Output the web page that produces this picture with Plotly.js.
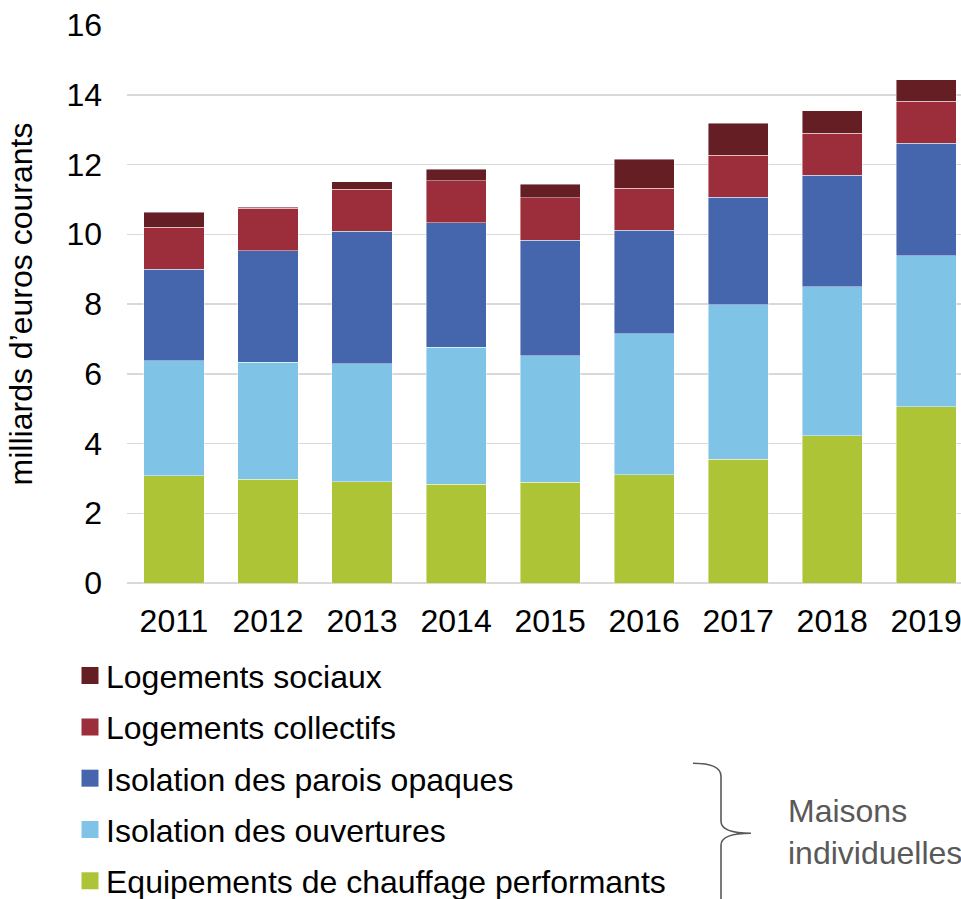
<!DOCTYPE html>
<html>
<head>
<meta charset="utf-8">
<script src="https://cdn.plot.ly/plotly-3.0.1.min.js"></script>
<style>
html,body{margin:0;padding:0;background:#fff;overflow:hidden;}
#chart{width:961px;height:899px;}
</style>
</head>
<body>
<div id="chart"></div>
<script>
// ---- Data (milliards d'euros courants) ----
const years = ['2011','2012','2013','2014','2015','2016','2017','2018','2019'];
const chauffage = [3.08, 2.97, 2.91, 2.83, 2.89, 3.10, 3.55, 4.22, 5.06];
const ouvertures = [3.30, 3.36, 3.37, 3.93, 3.62, 4.04, 4.43, 4.27, 4.32];
const parois = [2.61, 3.20, 3.80, 3.57, 3.32, 2.98, 3.08, 3.20, 3.23];
const collectifs = [1.21, 1.21, 1.21, 1.21, 1.21, 1.20, 1.20, 1.21, 1.21];
const sociaux = [0.43, 0.04, 0.21, 0.32, 0.39, 0.83, 0.92, 0.64, 0.61];

const seriesNames = ['Equipements de chauffage performants','Isolation des ouvertures','Isolation des parois opaques','Logements collectifs','Logements sociaux'];
const seriesValues = [chauffage, ouvertures, parois, collectifs, sociaux];
const seriesColors = ['#AEC437','#7FC3E7','#4565AD','#9C2D3A','#661E25'];

const FONT = 'Liberation Sans, Arial, sans-serif';
const FS = 32;

// plot area in pixels (for decoration placement)
const L = 127, R = 961, T = 24.5, B = 582.7;
const px = x => (x - L) / (R - L);
const py = y => (B - y) / (B - T);

const traces = seriesNames.map((n, i) => ({
  type: 'bar',
  name: n,
  x: years,
  y: seriesValues[i],
  legendgroup: 'g' + i,
  legendrank: 100 - i,
  marker: {color: seriesColors[i], line: {color: 'rgba(255,255,255,0.55)', width: 0.8}},
  hoverinfo: 'x+y+name'
}));

const bracePath = [
  'M', px(693), py(763),
  'Q', px(721), py(763), px(721), py(776),
  'L', px(721), py(821),
  'Q', px(721), py(833), px(751), py(833),
  'Q', px(721), py(833), px(721), py(845),
  'L', px(721), py(910)
].map(v => typeof v === 'number' ? v.toFixed(5) : v).join(' ')
 .replace(/(\d) (-?\d)/g, '$1,$2');

const layout = {
  width: 961, height: 899,
  margin: {l: L, r: 961 - R, t: T, b: 899 - B, autoexpand: false},
  paper_bgcolor: '#fff', plot_bgcolor: '#fff',
  barmode: 'stack',
  bargap: 0.36,
  font: {family: FONT, size: FS, color: '#000'},
  xaxis: {
    type: 'category',
    range: [-0.5, 8.37],
    showgrid: false, zeroline: false, showline: false,
    ticks: '', ticklabelstandoff: 16,
    tickfont: {family: FONT, size: FS, color: '#000'},
    fixedrange: true
  },
  yaxis: {
    range: [0, 16], dtick: 2,
    showgrid: true, gridcolor: '#d9d9d9', gridwidth: 1.5,
    zeroline: true, zerolinecolor: '#d9d9d9', zerolinewidth: 1.5,
    showline: false, ticks: '', ticklabelstandoff: 24,
    tickfont: {family: FONT, size: FS, color: '#000'},
    title: {text: 'milliards d’euros courants', font: {family: FONT, size: FS, color: '#000'}, standoff: 24},
    fixedrange: true
  },
  showlegend: true,
  legend: {
    orientation: 'v',
    traceorder: 'grouped',
    tracegroupgap: 6.7,
    x: px(66), xanchor: 'left',
    y: py(648), yanchor: 'top',
    font: {family: FONT, size: FS, color: '#000'},
    bgcolor: 'rgba(0,0,0,0)', borderwidth: 0
  },
  shapes: [{
    type: 'path', xref: 'paper', yref: 'paper',
    path: bracePath,
    line: {color: '#595959', width: 1.6}
  }],
  annotations: [{
    xref: 'paper', yref: 'paper',
    x: px(786), y: py(832), xanchor: 'left', yanchor: 'middle',
    align: 'left', showarrow: false,
    text: 'Maisons<br>individuelles',
    font: {family: FONT, size: FS, color: '#595959'}
  }]
};

const gdiv = document.getElementById('chart');
function enlargeLegendSquares() {
  // enlarge the legend squares to match the reference (about 17 px)
  gdiv.querySelectorAll('g.legendpoints path').forEach(p => {
    p.setAttribute('d', 'M12.5,8.5H-4.5V-8.5H12.5Z');
    p.style.strokeWidth = '0px';
  });
}
Plotly.newPlot(gdiv, traces, layout, {displayModeBar: false, staticPlot: true}).then(() => {
  enlargeLegendSquares();
  gdiv.on('plotly_afterplot', enlargeLegendSquares);
  setTimeout(enlargeLegendSquares, 30);
  setTimeout(enlargeLegendSquares, 300);
});
enlargeLegendSquares();
</script>
</body>
</html>
